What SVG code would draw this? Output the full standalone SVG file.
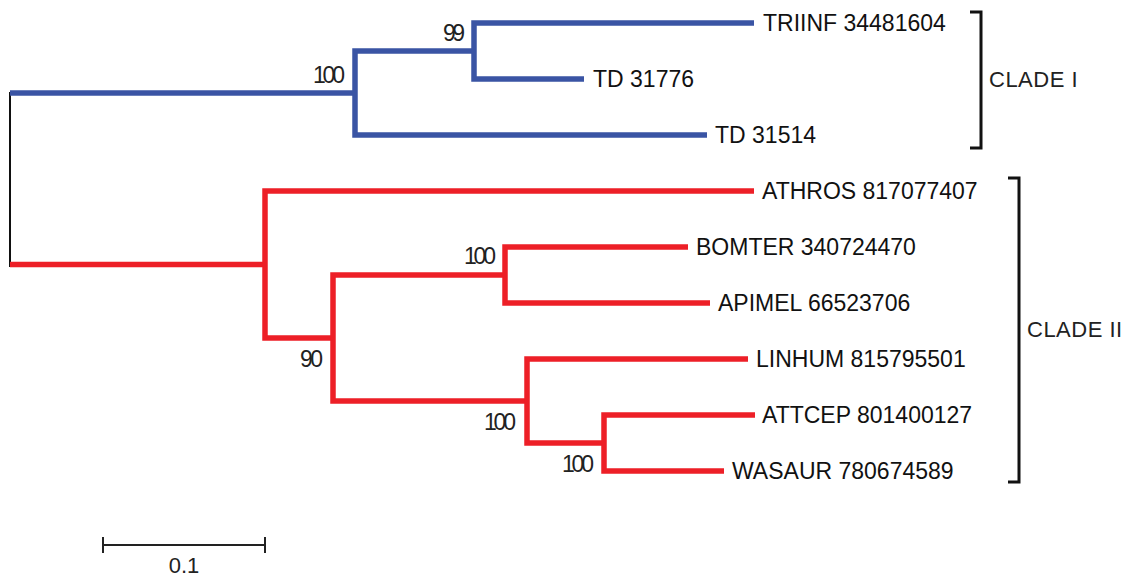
<svg xmlns="http://www.w3.org/2000/svg" width="1128" height="577" viewBox="0 0 1128 577">
<style>
.b{fill:none;stroke:#3a54a4;stroke-width:5.5;stroke-linejoin:miter;stroke-linecap:butt}
.r{fill:none;stroke:#ed1f27;stroke-width:5.5;stroke-linejoin:miter;stroke-linecap:butt}
.k{fill:none;stroke:#111;stroke-width:3}
.lbl{font-family:"Liberation Sans",Arial,sans-serif;font-size:23px;fill:#111}
.bs{font-family:"Liberation Sans",Arial,sans-serif;font-size:23px;fill:#222;text-anchor:end}
.cl{font-family:"Liberation Sans",Arial,sans-serif;font-size:22px;fill:#222;letter-spacing:0.5px}
</style>
<rect width="1128" height="577" fill="#fff"/>
<g id="connectors">
<line x1="10" y1="92" x2="10" y2="267" stroke="#111" stroke-width="2"/>
<path class="b" d="M10 93 H355"/>
<path class="b" d="M474 51 H355 V135 H707"/>
<path class="b" d="M754 23 H474 V79 H584"/>
<path class="r" d="M10 264.5 H265"/>
<path class="r" d="M754 191 H265 V338 H333"/>
<path class="r" d="M505 275 H333 V401 H527"/>
<path class="r" d="M688 247 H505 V303 H710"/>
<path class="r" d="M748 359 H527 V443 H604"/>
<path class="r" d="M755 415 H604 V471 H724"/>
</g>
<g id="leaf-triinf"><text class="lbl" x="763" y="31">TRIINF 34481604</text></g>
<g id="leaf-td31776"><text class="lbl" x="593" y="87">TD 31776</text></g>
<g id="leaf-td31514"><text class="lbl" x="715" y="143">TD 31514</text></g>
<g id="leaf-athros"><text class="lbl" x="762" y="199">ATHROS 817077407</text></g>
<g id="leaf-bomter"><text class="lbl" x="696" y="255">BOMTER 340724470</text></g>
<g id="leaf-apimel"><text class="lbl" x="718" y="311">APIMEL 66523706</text></g>
<g id="leaf-linhum"><text class="lbl" x="756" y="367">LINHUM 815795501</text></g>
<g id="leaf-attcep"><text class="lbl" x="762" y="423">ATTCEP 801400127</text></g>
<g id="leaf-wasaur"><text class="lbl" x="732" y="479">WASAUR 780674589</text></g>
<g id="bootstrap">
<text class="bs" x="465" y="41" textLength="22">99</text>
<text class="bs" x="345" y="83" textLength="32">100</text>
<text class="bs" x="496" y="264" textLength="32">100</text>
<text class="bs" x="323" y="367" textLength="23">90</text>
<text class="bs" x="516" y="430" textLength="32">100</text>
<text class="bs" x="594" y="472" textLength="32">100</text>
</g>
<g id="clade1">
<path class="k" d="M970 12 H981 V148 H970"/>
<text class="cl" x="989" y="87">CLADE I</text>
</g>
<g id="clade2">
<path class="k" d="M1008 178 H1019 V482 H1008"/>
<text class="cl" x="1027" y="337">CLADE II</text>
</g>
<g id="scalebar">
<path d="M103 545 H265 M103 537 V553 M265 537 V553" stroke="#222" stroke-width="2" fill="none"/>
<text x="184" y="573" text-anchor="middle" font-family="Liberation Sans, Arial, sans-serif" font-size="22" fill="#222">0.1</text>
</g>
</svg>
